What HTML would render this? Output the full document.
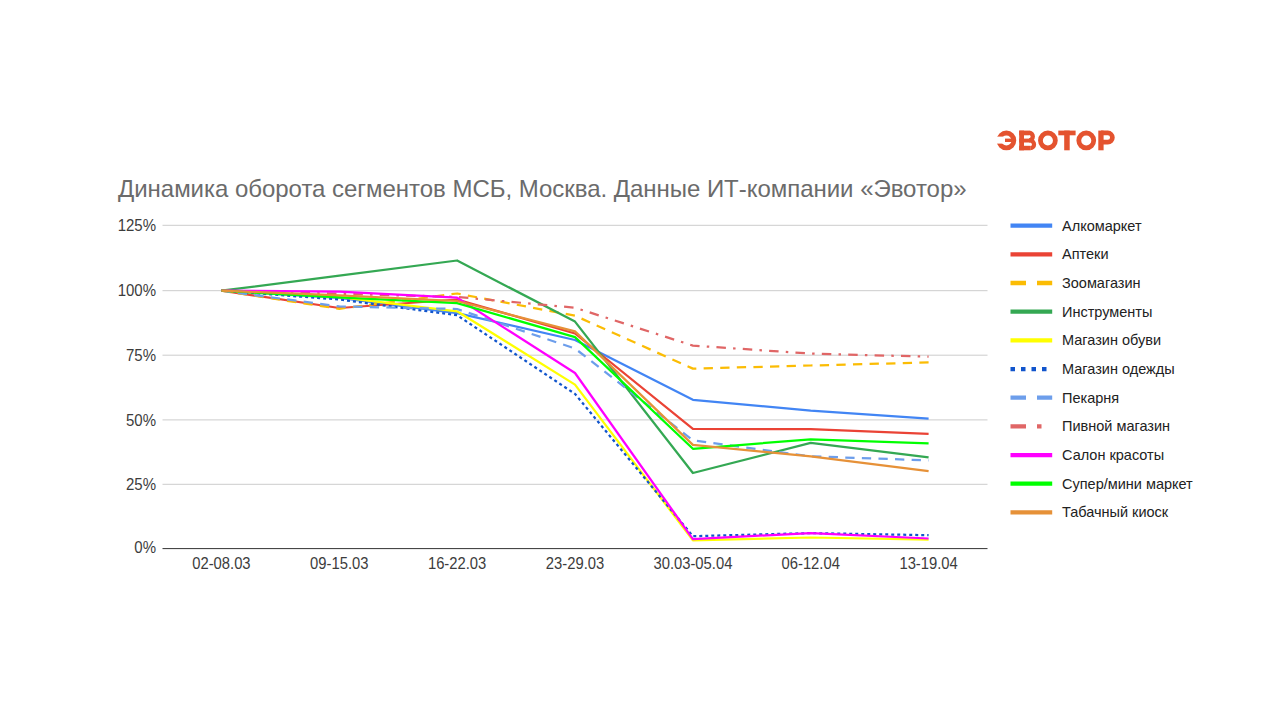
<!DOCTYPE html>
<html><head><meta charset="utf-8"><title>Динамика оборота сегментов МСБ</title>
<style>
html,body{margin:0;padding:0;background:#fff;}
body{width:1280px;height:720px;overflow:hidden;position:relative;font-family:"Liberation Sans",sans-serif;}
svg{position:absolute;left:0;top:0;}
</style></head><body>
<svg width="1280" height="720" viewBox="0 0 1280 720" font-family="Liberation Sans, sans-serif">
<rect width="1280" height="720" fill="#fff"/>

<g id="logo"><circle cx="1006.4" cy="140.45" r="7.45" fill="none" stroke="#e4532f" stroke-width="4.8"/><rect x="994" y="136.6" width="10.5" height="7.0" fill="#fff"/><rect x="1005" y="138.6" width="7" height="3.4" fill="#e4532f"/><rect x="1019.2" y="130.6" width="4.8" height="19.7" fill="#e4532f"/><rect x="1019.2" y="130.6" width="9.9" height="4.7" fill="#e4532f"/><rect x="1019.2" y="138.6" width="11.2" height="3.9" fill="#e4532f"/><rect x="1019.2" y="145.8" width="11.2" height="4.5" fill="#e4532f"/><path d="M1029,132.75 A3.8,3.8 0 0 1 1029,140.35" fill="none" stroke="#e4532f" stroke-width="4.3"/><path d="M1030.3,140.7 A3.75,3.75 0 0 1 1030.3,148.2" fill="none" stroke="#e4532f" stroke-width="4.2"/><circle cx="1047.9" cy="140.45" r="7.45" fill="none" stroke="#e4532f" stroke-width="4.8"/><rect x="1058.3" y="130.6" width="17.3" height="4.7" fill="#e4532f"/><rect x="1064.2" y="130.6" width="5.5" height="19.7" fill="#e4532f"/><circle cx="1086.25" cy="140.45" r="7.45" fill="none" stroke="#e4532f" stroke-width="4.8"/><rect x="1098.3" y="130.6" width="5.3" height="19.7" fill="#e4532f"/><path d="M1101,132.95 H1107.8 A4.6,4.6 0 0 1 1107.8,142.15 H1101" fill="none" stroke="#e4532f" stroke-width="4.7"/></g>
<text x="118" y="197" font-size="24" fill="#6b6b6b" id="title" textLength="848.6" lengthAdjust="spacing">Динамика оборота сегментов МСБ, Москва. Данные ИТ-компании «Эвотор»</text>
<line x1="162.5" y1="484.3" x2="987.5" y2="484.3" stroke="#cccccc" stroke-width="1"/>
<line x1="162.5" y1="419.9" x2="987.5" y2="419.9" stroke="#cccccc" stroke-width="1"/>
<line x1="162.5" y1="355.2" x2="987.5" y2="355.2" stroke="#cccccc" stroke-width="1"/>
<line x1="162.5" y1="290.7" x2="987.5" y2="290.7" stroke="#cccccc" stroke-width="1"/>
<line x1="162.5" y1="225.3" x2="987.5" y2="225.3" stroke="#cccccc" stroke-width="1"/>
<text transform="translate(156,553.0) scale(1,1.08)" font-size="15" fill="#3c3c3c" text-anchor="end">0%</text>
<text transform="translate(156,489.9) scale(1,1.08)" font-size="15" fill="#3c3c3c" text-anchor="end">25%</text>
<text transform="translate(156,425.5) scale(1,1.08)" font-size="15" fill="#3c3c3c" text-anchor="end">50%</text>
<text transform="translate(156,360.8) scale(1,1.08)" font-size="15" fill="#3c3c3c" text-anchor="end">75%</text>
<text transform="translate(156,295.9) scale(1,1.08)" font-size="15" fill="#3c3c3c" text-anchor="end">100%</text>
<text transform="translate(156,230.9) scale(1,1.08)" font-size="15" fill="#3c3c3c" text-anchor="end">125%</text>
<text transform="translate(221.4,568.6) scale(1,1.08)" font-size="14.8" fill="#3c3c3c" text-anchor="middle">02-08.03</text>
<text transform="translate(339.3,568.6) scale(1,1.08)" font-size="14.8" fill="#3c3c3c" text-anchor="middle">09-15.03</text>
<text transform="translate(457.1,568.6) scale(1,1.08)" font-size="14.8" fill="#3c3c3c" text-anchor="middle">16-22.03</text>
<text transform="translate(575.0,568.6) scale(1,1.08)" font-size="14.8" fill="#3c3c3c" text-anchor="middle">23-29.03</text>
<text transform="translate(692.9,568.6) scale(1,1.08)" font-size="14.8" fill="#3c3c3c" text-anchor="middle">30.03-05.04</text>
<text transform="translate(810.7,568.6) scale(1,1.08)" font-size="14.8" fill="#3c3c3c" text-anchor="middle">06-12.04</text>
<text transform="translate(928.6,568.6) scale(1,1.08)" font-size="14.8" fill="#3c3c3c" text-anchor="middle">13-19.04</text>
<polyline points="221.4,290.7 339.3,297.9 457.1,313.1 575.0,340.0 692.9,399.8 810.7,410.6 928.6,418.6" fill="none" stroke="#4285f4" stroke-width="2.25" stroke-linejoin="round"/>
<polyline points="221.4,290.7 339.3,308.0 457.1,299.5 575.0,333.5 692.9,428.9 810.7,429.2 928.6,433.8" fill="none" stroke="#ea4335" stroke-width="2.25" stroke-linejoin="round"/>
<polyline points="221.4,290.7 339.3,308.8 457.1,293.5 575.0,315.7 692.9,368.6 810.7,365.5 928.6,362.4" fill="none" stroke="#fbbc04" stroke-width="2.25" stroke-linejoin="round" stroke-dasharray="9.3,7.3"/>
<polyline points="221.4,290.7 339.3,275.7 457.1,260.5 575.0,321.6 692.9,473.0 810.7,442.9 928.6,457.3" fill="none" stroke="#34a853" stroke-width="2.25" stroke-linejoin="round"/>
<polyline points="221.4,290.7 339.3,297.1 457.1,311.3 575.0,384.6 692.9,540.3 810.7,537.5 928.6,539.6" fill="none" stroke="#ffff00" stroke-width="2.25" stroke-linejoin="round"/>
<polyline points="221.4,290.7 339.3,299.5 457.1,315.2 575.0,393.9 692.9,536.2 810.7,533.1 928.6,535.2" fill="none" stroke="#1155cc" stroke-width="2.25" stroke-linejoin="round" stroke-dasharray="3,3"/>
<polyline points="221.4,290.7 339.3,306.4 457.1,309.0 575.0,348.5 692.9,440.3 810.7,456.3 928.6,460.4" fill="none" stroke="#6d9eeb" stroke-width="2.25" stroke-linejoin="round" stroke-dasharray="9.3,7.3"/>
<polyline points="221.4,290.7 339.3,293.8 457.1,296.9 575.0,307.7 692.9,345.6 810.7,353.6 928.6,356.7" fill="none" stroke="#e06666" stroke-width="2.25" stroke-linejoin="round" stroke-dasharray="9.5,7.2,2.5,7.2"/>
<polyline points="221.4,290.7 339.3,291.7 457.1,297.7 575.0,373.0 692.9,539.1 810.7,533.1 928.6,538.5" fill="none" stroke="#ff00ff" stroke-width="2.25" stroke-linejoin="round"/>
<polyline points="221.4,290.7 339.3,297.4 457.1,303.1 575.0,337.1 692.9,448.8 810.7,439.3 928.6,443.4" fill="none" stroke="#00ff00" stroke-width="2.25" stroke-linejoin="round"/>
<polyline points="221.4,290.7 339.3,295.3 457.1,301.0 575.0,331.4 692.9,444.9 810.7,456.3 928.6,471.2" fill="none" stroke="#e69138" stroke-width="2.25" stroke-linejoin="round"/>
<line x1="162.5" y1="548.6" x2="987.5" y2="548.6" stroke="#333" stroke-width="1"/>
<line x1="1010.5" y1="225.7" x2="1052.2" y2="225.7" stroke="#4285f4" stroke-width="4.3"/>
<text x="1062" y="230.7" font-size="14.5" fill="#222">Алкомаркет</text>
<line x1="1010.5" y1="254.4" x2="1052.2" y2="254.4" stroke="#ea4335" stroke-width="4.3"/>
<text x="1062" y="259.4" font-size="14.5" fill="#222">Аптеки</text>
<line x1="1010.5" y1="283.0" x2="1052.2" y2="283.0" stroke="#fbbc04" stroke-width="4.3" stroke-dasharray="15.5,11"/>
<text x="1062" y="288.0" font-size="14.5" fill="#222">Зоомагазин</text>
<line x1="1010.5" y1="311.7" x2="1052.2" y2="311.7" stroke="#34a853" stroke-width="4.3"/>
<text x="1062" y="316.7" font-size="14.5" fill="#222">Инструменты</text>
<line x1="1010.5" y1="340.4" x2="1052.2" y2="340.4" stroke="#ffff00" stroke-width="4.3"/>
<text x="1062" y="345.4" font-size="14.5" fill="#222">Магазин обуви</text>
<line x1="1010.5" y1="369.1" x2="1052.2" y2="369.1" stroke="#1155cc" stroke-width="4.3" stroke-dasharray="4.5,6"/>
<text x="1062" y="374.1" font-size="14.5" fill="#222">Магазин одежды</text>
<line x1="1010.5" y1="397.7" x2="1052.2" y2="397.7" stroke="#6d9eeb" stroke-width="4.3" stroke-dasharray="15.5,11"/>
<text x="1062" y="402.7" font-size="14.5" fill="#222">Пекарня</text>
<line x1="1010.5" y1="426.4" x2="1052.2" y2="426.4" stroke="#e06666" stroke-width="4.3" stroke-dasharray="15.5,11,4.5,20"/>
<text x="1062" y="431.4" font-size="14.5" fill="#222">Пивной магазин</text>
<line x1="1010.5" y1="455.1" x2="1052.2" y2="455.1" stroke="#ff00ff" stroke-width="4.3"/>
<text x="1062" y="460.1" font-size="14.5" fill="#222">Салон красоты</text>
<line x1="1010.5" y1="483.7" x2="1052.2" y2="483.7" stroke="#00ff00" stroke-width="4.3"/>
<text x="1062" y="488.7" font-size="14.5" fill="#222">Супер/мини маркет</text>
<line x1="1010.5" y1="512.4" x2="1052.2" y2="512.4" stroke="#e69138" stroke-width="4.3"/>
<text x="1062" y="517.4" font-size="14.5" fill="#222">Табачный киоск</text>
</svg></body></html>
